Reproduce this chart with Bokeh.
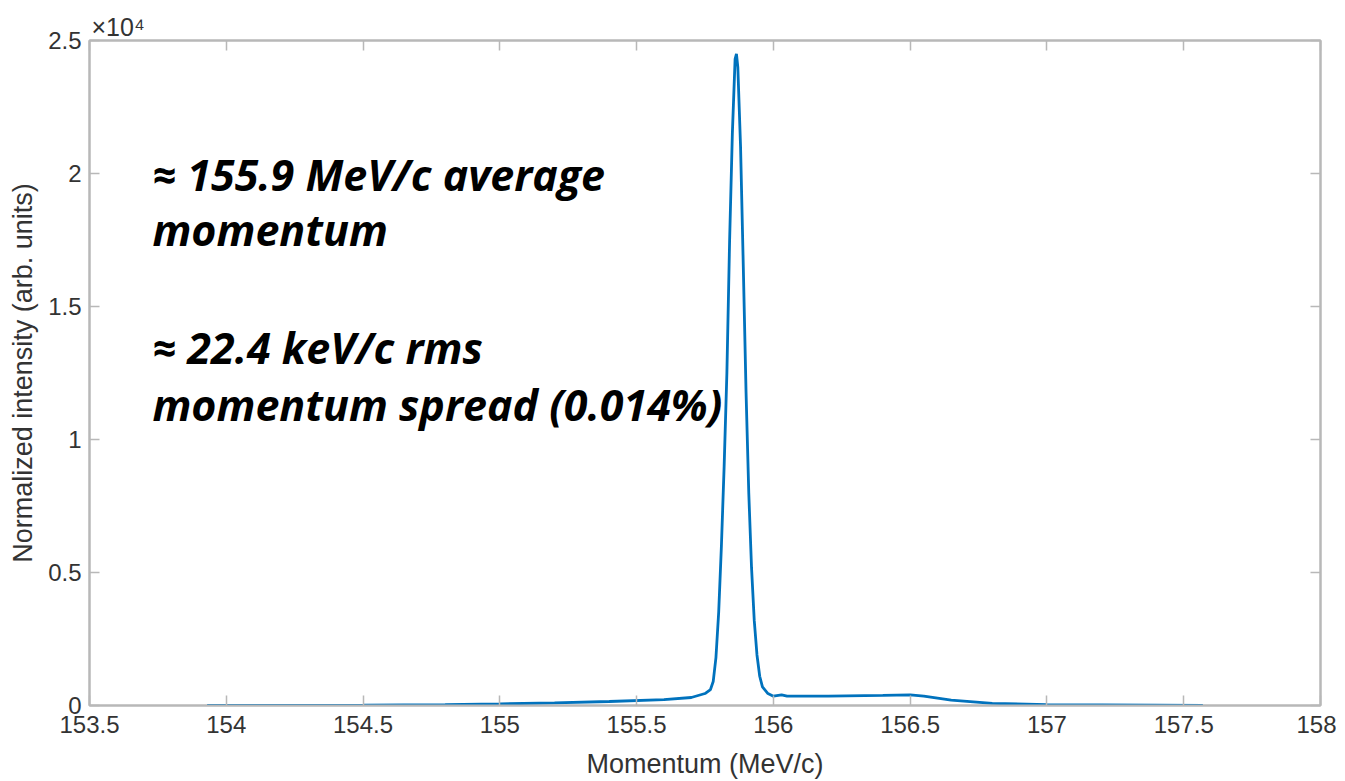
from bokeh.plotting import figure
from bokeh.models import LinearAxis, FixedTicker, Label, Range1d, CustomJSTickFormatter, Title
from bokeh.embed import file_html
from bokeh.resources import INLINE

# Data
momentum = [153.93, 154.2, 154.5, 154.8, 155.0, 155.2, 155.4, 155.6, 155.70, 155.75,
            155.77, 155.78, 155.79, 155.80, 155.81, 155.82, 155.83, 155.84, 155.85,
            155.86, 155.865, 155.87, 155.88, 155.89, 155.90, 155.91, 155.92, 155.93,
            155.94, 155.95, 155.96, 155.98, 156.0, 156.03, 156.05, 156.2, 156.4,
            156.5, 156.55, 156.65, 156.8, 157.0, 157.2, 157.4, 157.57]
intensity = [0, 0, 10, 30, 60, 100, 150, 220, 300, 450,
             600, 900, 1800, 3500, 6000, 9000, 12500, 17500, 21500,
             24300, 24500, 24000, 21000, 16500, 11800, 8000, 5200, 3200,
             1900, 1100, 700, 450, 350, 400, 350, 350, 380,
             400, 350, 200, 80, 30, 20, 10, 0]

x_ticks = [153.5, 154, 154.5, 155, 155.5, 156, 156.5, 157, 157.5, 158]
x_tick_labels = ["153.5", "154", "154.5", "155", "155.5", "156", "156.5", "157", "157.5", "158"]
y_ticks = [0, 5000, 10000, 15000, 20000, 25000]
y_tick_labels = ["0", "0.5", "1", "1.5", "2", "2.5"]
y_exponent = "\u00d710\u2074"

annotation_lines = ["\u2248 155.9 MeV/c average", "momentum",
                    "\u2248 22.4 keV/c rms", "momentum spread (0.014%)"]

AX = "#b8b8b8"
TXT = "#333333"
TICK_FONT = "Liberation Sans"

p = figure(frame_width=1231, frame_height=665, output_backend="svg",
           toolbar_location=None, x_range=Range1d(153.5, 158), y_range=Range1d(0, 25000),
           min_border_left=89, min_border_top=40, min_border_right=16, min_border_bottom=68)

p.line(momentum, intensity, line_color="#0072BD", line_width=2.8)

p.xgrid.visible = False
p.ygrid.visible = False
p.outline_line_color = AX
p.outline_line_width = 2
p.background_fill_color = "white"

def style(ax):
    ax.axis_line_color = AX
    ax.axis_line_width = 2
    ax.major_tick_line_color = AX
    ax.major_tick_line_width = 1.5
    ax.major_tick_in = 10
    ax.major_tick_out = 0
    ax.minor_tick_line_color = None
    ax.major_label_text_font = TICK_FONT
    ax.major_label_text_font_size = "24px"
    ax.major_label_text_color = TXT
    ax.axis_label_text_font = TICK_FONT
    ax.axis_label_text_font_size = "27px"
    ax.axis_label_text_font_style = "normal"
    ax.axis_label_text_color = TXT

xa = p.xaxis[0]
ya = p.yaxis[0]
style(xa)
style(ya)
xa.ticker = FixedTicker(ticks=x_ticks)
xa.major_label_overrides = dict(zip(x_ticks, x_tick_labels))
ya.ticker = FixedTicker(ticks=y_ticks)
ya.major_label_overrides = dict(zip(y_ticks, y_tick_labels))
xa.axis_label = "Momentum (MeV/c)"
ya.axis_label = "Normalized intensity (arb. units)"
xa.major_label_standoff = 10
xa.axis_label_standoff = 13
ya.major_label_standoff = 8
ya.axis_label_standoff = 7

empty = CustomJSTickFormatter(code="return ''")
top = LinearAxis(ticker=FixedTicker(ticks=x_ticks), formatter=empty)
right = LinearAxis(ticker=FixedTicker(ticks=y_ticks), formatter=empty)
for a in (top, right):
    style(a)
    a.major_label_text_font_size = "0px"
    a.major_label_standoff = 0
p.add_layout(top, "above")
p.add_layout(right, "right")

# x10^4 exponent as a left-aligned title above the frame
p.add_layout(Title(text=y_exponent, align="left", offset=2, text_font=TICK_FONT,
                   text_font_size="25px", text_font_style="normal", text_color=TXT,
                   standoff=0), "above")

ann_y = [19950, 17880, 13460, 11320]
for t, yy in zip(annotation_lines, ann_y):
    p.add_layout(Label(x=153.73, y=yy, text=t, text_font="Open Sans",
                       text_font_size="43px", text_font_style="bold italic",
                       text_color="black", text_baseline="alphabetic", text_align="left"))

open("out.html", "w").write(file_html(p, INLINE))
